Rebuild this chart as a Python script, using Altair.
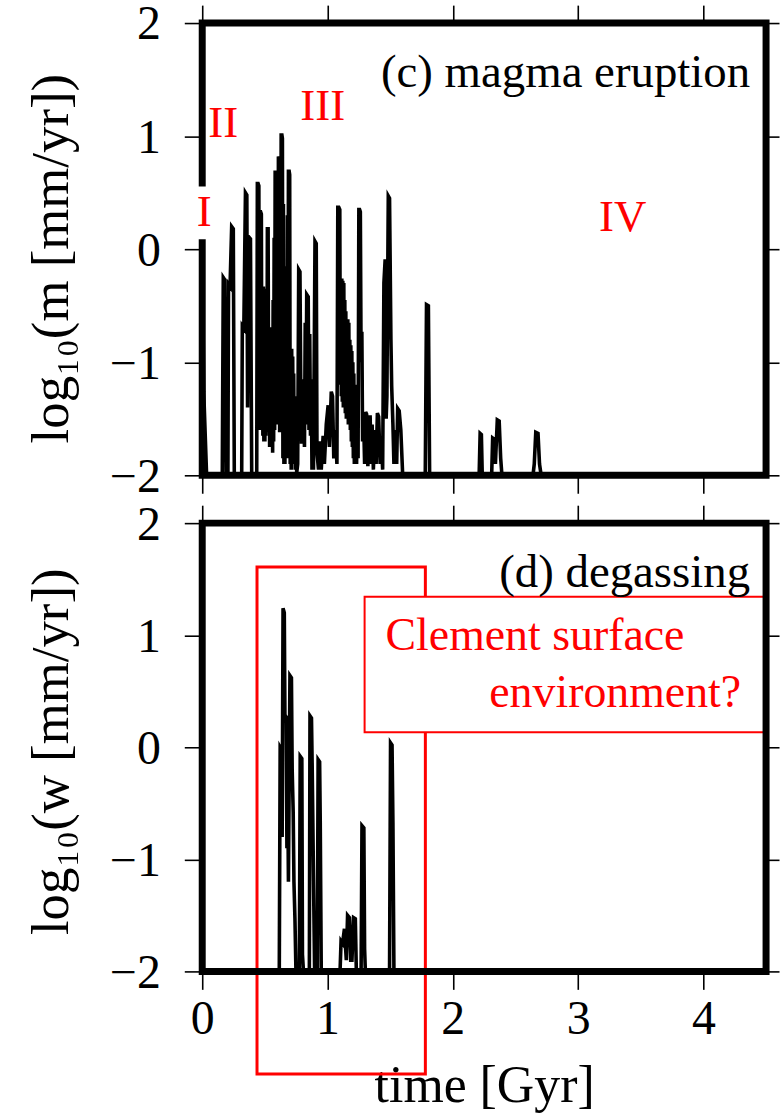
import altair as alt
import pandas as pd

# ---------------- data ----------------
# (c) magma eruption: time [Gyr] and log10(m [mm/yr])
t_erupt = [
    0.000, 0.012, 0.035,
    0.160, 0.168, 0.180, 0.190,
    0.205, 0.210, 0.222, 0.235, 0.248, 0.256,
    0.315, 0.320, 0.332, 0.345, 0.356, 0.362, 0.370, 0.385, 0.395,
    0.435, 0.440, 0.446, 0.452, 0.456, 0.460, 0.466, 0.472, 0.476, 0.480,
    0.484, 0.488, 0.492, 0.496, 0.500, 0.504, 0.508, 0.512, 0.516, 0.520,
    0.526, 0.530, 0.534, 0.538, 0.542, 0.546, 0.550, 0.554, 0.558, 0.562,
    0.566, 0.570, 0.574, 0.578, 0.582, 0.588, 0.592, 0.596, 0.600, 0.604,
    0.608, 0.614, 0.618, 0.622, 0.626, 0.630, 0.636, 0.640, 0.644, 0.648,
    0.652, 0.656, 0.660, 0.664, 0.668, 0.672, 0.676, 0.680, 0.684, 0.688,
    0.694, 0.698, 0.702, 0.706, 0.710, 0.714, 0.718, 0.722, 0.726, 0.730,
    0.734, 0.738, 0.742, 0.748, 0.754, 0.762,
    0.770, 0.780, 0.786, 0.792, 0.798,
    0.804, 0.810, 0.816, 0.822, 0.828, 0.834, 0.846, 0.852, 0.858, 0.864,
    0.870, 0.876, 0.882, 0.888, 0.900, 0.910, 0.916, 0.928, 0.940, 0.950,
    0.965, 0.975, 0.990, 1.005, 1.015, 1.030, 1.040, 1.050, 1.062, 1.075,
    1.082, 1.090, 1.098, 1.102, 1.106, 1.110, 1.114, 1.118, 1.122, 1.126,
    1.130, 1.134, 1.138, 1.142, 1.146, 1.150, 1.154, 1.158, 1.162, 1.166,
    1.170, 1.174, 1.178, 1.182, 1.186, 1.190, 1.194, 1.198, 1.202, 1.206,
    1.210, 1.214, 1.218, 1.222, 1.226, 1.232, 1.238, 1.244, 1.250, 1.256,
    1.262, 1.268, 1.274, 1.280, 1.288, 1.296, 1.304, 1.312, 1.322, 1.330,
    1.340, 1.348, 1.356, 1.366, 1.376, 1.388, 1.398, 1.408, 1.420, 1.430,
    1.440, 1.450, 1.460, 1.468, 1.474, 1.485, 1.495, 1.506, 1.512, 1.522,
    1.530, 1.540, 1.552, 1.560, 1.572, 1.585, 1.600, 1.612,
    1.780, 1.790, 1.805, 1.815,
    2.210, 2.218, 2.228, 2.235,
    2.310, 2.318, 2.330, 2.340, 2.355, 2.370, 2.382, 2.392,
    2.640, 2.650, 2.662, 2.680, 2.692, 2.705, 4.500,
]
m_erupt = [
    0.10, -1.26, -2.00,
    -2.00, -0.25, -0.27, -2.00,
    -2.00, -0.31, -0.33, 0.20, 0.18, -2.00,
    -2.00, -0.68, -0.70, 0.50, 0.48, -1.40, 0.11, 0.09, -2.00,
    -2.00, 0.58, 0.58, 0.56, -1.60, 0.33, 0.33, 0.31, -1.60, -0.33,
    -1.65, -0.33, -1.70, -0.35, -1.70, -0.68, -1.65, -0.68, -1.62, 0.18,
    0.18, -1.60, -0.69, -1.75, -0.69, -1.70, -0.72, -1.75, -0.70, -1.80,
    -0.45, -1.70, 0.10, -1.60, 0.68, 0.68, 0.66, -1.50, 0.55, -1.55,
    0.82, 0.80, -1.62, 0.75, -1.58, 1.01, 1.01, 0.98, -1.85, 0.40,
    -1.90, -0.15, -1.90, -0.15, -1.75, -0.20, -1.85, 0.30, -1.65, 0.69,
    0.69, 0.66, -1.90, -0.88, -1.95, -0.88, -1.70, -0.95, -1.85, -1.10,
    -1.90, -1.30, -1.95, -1.60, -1.98, -1.90,
    -0.18, -0.20, -1.15, -1.72, -1.15,
    -1.70, -1.40, -1.75, -0.65, -1.55, -0.40, -0.42, -1.60, -0.75, -1.65,
    -1.15, -1.95, -1.60, -1.95, 0.07, 0.05, -1.80, -1.95, -1.70, -1.95,
    -1.65, -1.90, -1.55, -1.38, -1.75, -1.26, -1.30, -1.85, -1.60, -1.90,
    0.37, 0.37, 0.35, -1.20, -0.26, -1.30, -0.26, -1.35, -0.28, -1.40,
    -0.30, -1.40, -0.45, -1.45, -0.55, -1.50, -0.62, -1.50, -0.62, -1.55,
    -0.65, -1.55, -0.80, -1.60, -0.85, -1.70, -0.90, -1.75, -1.00, -1.85,
    -1.10, -1.90, -1.20, -1.90, -1.30, -1.90, -1.40, -1.85, 0.35, 0.35,
    0.33, -1.00, -0.73, -1.70, -1.50, -1.90, -1.44, -1.46, -1.92, -1.55,
    -1.47, -1.90, -1.55, -1.95, -1.60, -1.90, -1.45, -1.48, -1.90, -1.70,
    -1.95, -0.30, -0.09, -1.50, -1.30, 0.47, 0.45, -0.80, -1.21, -1.55,
    -1.90, -1.60, -1.90, -1.41, -1.43, -1.60, -2.00, -2.00,
    -2.00, -0.49, -0.50, -2.00,
    -2.00, -1.63, -1.64, -2.00,
    -2.00, -1.67, -1.68, -1.90, -1.51, -1.52, -1.85, -2.00,
    -2.00, -1.90, -1.62, -1.63, -1.90, -2.00, -2.00,
]

# (d) degassing: time [Gyr] and log10(w [mm/yr])
t_degas = [
    0.000, 0.615, 0.622, 0.632, 0.638, 0.645, 0.655, 0.660, 0.670, 0.676,
    0.682, 0.688, 0.700, 0.712, 0.718, 0.726, 0.732, 0.740, 0.748,
    0.775, 0.782, 0.795, 0.800, 0.808,
    0.855, 0.860, 0.872, 0.878, 0.890, 0.897,
    0.918, 0.925, 0.937, 0.942, 0.950,
    1.100, 1.108, 1.120, 1.135, 1.150, 1.160, 1.175, 1.185, 1.195, 1.208,
    1.222, 1.230,
    1.268, 1.275, 1.290, 1.296, 1.302,
    1.495, 1.503, 1.515, 1.522, 1.530,
    4.500,
]
w_degas = [
    -2.00, -2.00, 0.00, -0.02, -0.80, 1.24, 1.20, 0.29, 0.27, -0.90,
    -0.30, -1.20, 0.64, 0.62, -0.20, -0.58, -1.20, -1.53, -2.00,
    -2.00, -0.08, -0.10, -1.85, -2.00,
    -2.00, 0.28, 0.26, -0.20, -1.35, -2.00,
    -2.00, -0.11, -0.13, -0.67, -2.00,
    -2.00, -1.73, -1.75, -1.62, -1.90, -1.50, -1.52, -1.90, -1.90, -1.52,
    -1.53, -2.00,
    -2.00, -0.70, -0.72, -1.80, -2.00,
    -2.00, 0.04, 0.02, -0.67, -2.00,
    -2.00,
]

x_ticks = [0, 1, 2, 3, 4]
y_ticks = [-2, -1, 0, 1, 2]
x_domain = [0, 4.5]
y_domain = [-2, 2]
panel_titles = ["(c) magma eruption", "(d) degassing"]
y_titles = ["log\u2081\u2080(m [mm/yr])", "log\u2081\u2080(w [mm/yr])"]
x_title = "time [Gyr]"
phase_labels = ["I", "II", "III", "IV"]
box_lines = ["Clement surface", "environment?"]

assert len(t_erupt) == len(m_erupt), (len(t_erupt), len(m_erupt))
assert len(t_degas) == len(w_degas)

# ---------------- style ----------------
FONT = "Liberation Serif"
RED = "#ff0000"
W = 566
H_TOP = 454
H_BOT = 450
TICK = 18

xs = alt.Scale(domain=x_domain, nice=False, zero=False)
ys = alt.Scale(domain=y_domain, nice=False, zero=False)

frame_df = pd.DataFrame({"t0": [x_domain[0]], "t1": [x_domain[1]],
                         "v0": [y_domain[0]], "v1": [y_domain[1]]})
one = pd.DataFrame({"k": [0]})


def axis(orient, values, labels=False, size=TICK, **kw):
    return alt.Axis(orient=orient, values=values, labels=labels, domain=False,
                    grid=False, ticks=True, tickSize=size, tickWidth=1.6,
                    tickColor="black", labelFont=FONT, labelFontSize=48,
                    labelColor="black", labelFlush=False, labelOverlap=False,
                    labelPadding=kw.pop("labelPadding", 24), **kw)


def text_layer(label, x, y, size, color="black", align="center"):
    return alt.Chart(pd.DataFrame({"label": [label]})).mark_text(
        x=x, y=y, align=align, baseline="alphabetic", font=FONT,
        fontSize=size, color=color).encode(text="label:N")


def panel(t, v, height, ytitle, ytitle_shift, ptitle, bottom, extra_back, extra_front):
    df = pd.DataFrame({"t": t, "v": v})
    if bottom:
        xb = axis("bottom", x_ticks, labels=True, title=x_title,
                  titleFont=FONT, titleFontSize=52, titleFontWeight="normal",
                  titleColor="black", titlePadding=18, labelPadding=6)
    else:
        xb = axis("bottom", x_ticks, title=None)
    yl = axis("left", y_ticks, labels=True, title=ytitle, titleFont=FONT,
              titleFontSize=53, titleFontWeight="normal", titleColor="black",
              titleAngle=270, titleX=-135, titleY=height / 2 + ytitle_shift,
              titleAlign="center", titleBaseline="alphabetic", labelOffset=2)
    line = alt.Chart(df).mark_line(color="black", strokeWidth=3.6).encode(
        x=alt.X("t:Q", scale=xs, axis=xb),
        y=alt.Y("v:Q", scale=ys, axis=yl),
    )
    frame = alt.Chart(frame_df).mark_rect(
        fillOpacity=0, stroke="black", strokeWidth=7).encode(
        x=alt.X("t0:Q", scale=xs, axis=axis("top", x_ticks, title=None)),
        x2="t1:Q",
        y=alt.Y("v0:Q", scale=ys, axis=axis("right", y_ticks, size=13, title=None)),
        y2="v1:Q",
    )
    title = text_layer(ptitle, W - 16, 64, 47, align="right")
    layers = [line] + extra_back + [frame] + extra_front + [title]
    return alt.layer(*layers).resolve_axis(x="independent", y="independent").properties(
        width=W, height=height)


# top panel annotations
i_mask = alt.Chart(one).mark_rect(fill="white", stroke=None).encode(
    x=alt.value(-6), x2=alt.value(10), y=alt.value(164), y2=alt.value(217))
top_front = [
    i_mask,
    text_layer(phase_labels[0], 2, 204, 45, RED),
    text_layer(phase_labels[1], 21, 114, 45, RED),
    text_layer(phase_labels[2], 121, 97, 45, RED),
    text_layer(phase_labels[3], 422, 209, 45, RED),
]

# bottom panel annotations
big_box = alt.Chart(one).mark_rect(fillOpacity=0, stroke=RED, strokeWidth=3).encode(
    x=alt.value(55), x2=alt.value(224), y=alt.value(44), y2=alt.value(553))
text_box = alt.Chart(one).mark_rect(fill="white", stroke=RED, strokeWidth=2).encode(
    x=alt.value(163), x2=alt.value(566), y=alt.value(74), y2=alt.value(210))
bot_back = [
    big_box,
    text_box,
    text_layer(box_lines[0], 184, 127, 46, RED, align="left"),
    text_layer(box_lines[1], 541, 185, 46, RED, align="right"),
]

top = panel(t_erupt, m_erupt, H_TOP, y_titles[0], 9, panel_titles[0], False, [], top_front)
bot = panel(t_degas, w_degas, H_BOT, y_titles[1], 4, panel_titles[1], True, bot_back, [])

chart = alt.vconcat(top, bot, spacing=-2).properties(
    padding={"left": 25, "top": -2, "right": 0, "bottom": 0},
    background="white",
).configure_view(stroke=None).configure(font=FONT)

chart.save("out.html", embed_options={"renderer": "svg", "actions": False})
